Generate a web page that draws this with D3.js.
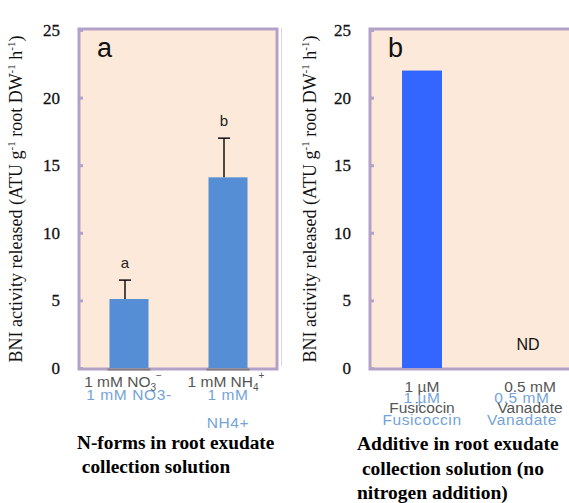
<!DOCTYPE html>
<html>
<head>
<meta charset="utf-8">
<script src="https://cdn.jsdelivr.net/npm/d3@7"></script>
<style>
  body { margin: 0; background: #fff; }
  svg { display: block; }
</style>
</head>
<body>
<svg id="chart" width="569" height="503"></svg>
<script>
// panel a data
const catsA = ["NO3", "NH4"];
const valuesA = [5.1, 14.1];
const errA = [1.4, 2.9];
const lettersA = ["a", "b"];

// panel b data (vanadate not detected)
const catsB = ["Fusicoccin", "Vanadate"];
const valuesB = [22, null];

const yTicks = [0, 5, 10, 15, 20, 25];

const svg = d3.select("#chart");
const frameFill = "#fde9d9", frameStroke = "#b3a2c7";
const serif = "'Liberation Serif', 'Times New Roman', serif";
const sans = "'Liberation Sans', Arial, sans-serif";
const blue = "#5b93d3";

function panel(opts) {
  const y = d3.scaleLinear().domain([0, 25]).range([368, 30]);
  const x = d3.scaleBand().domain(opts.cats).range(opts.xr)
    .paddingInner(opts.pi).paddingOuter(opts.po);

  const g = svg.append("g");
  g.append("rect")
    .attr("x", opts.fx).attr("y", 29)
    .attr("width", opts.fw).attr("height", 340)
    .attr("fill", frameFill).attr("stroke", frameStroke).attr("stroke-width", 3);

  const ax = g.append("g")
    .attr("transform", `translate(${opts.fx},0)`)
    .call(d3.axisLeft(y).tickValues(yTicks).tickSizeInner(-4).tickSizeOuter(0).tickPadding(19));
  ax.select(".domain").remove();
  ax.selectAll(".tick line").attr("stroke", frameStroke).attr("stroke-width", 3);
  ax.selectAll(".tick text")
    .attr("font-family", serif).attr("font-size", 17).attr("fill", "#111")
    .attr("stroke", "#111").attr("stroke-width", 0.3);

  // y axis title
  const t = g.append("text")
    .attr("transform", `translate(${opts.tx},199) rotate(-90)`)
    .attr("text-anchor", "middle")
    .attr("font-family", serif).attr("font-size", 18).attr("fill", "#111");
  t.append("tspan").text("BNI activity released (ATU g");
  t.append("tspan").attr("font-size", 11).attr("dy", -7).text("-1");
  t.append("tspan").attr("dy", 7).text(" root DW");
  t.append("tspan").attr("font-size", 11).attr("dy", -7).text("-1");
  t.append("tspan").attr("dy", 7).text(" h");
  t.append("tspan").attr("font-size", 11).attr("dy", -7).text("-1");
  t.append("tspan").attr("dy", 7).text(")");

  // panel letter
  g.append("text").attr("x", opts.fx + 18).attr("y", 57)
    .attr("font-family", sans).attr("font-size", 27).attr("fill", "#111")
    .text(opts.letter);

  return { g, x, y };
}

// ---------- panel a ----------
const pa = panel({ cats: catsA, xr: [79, 278], pi: 0.606, po: 0.308,
  fx: 79, fw: 198, tx: 22, letter: "a" });

pa.g.selectAll(".bar").data(valuesA).join("rect")
  .attr("x", (d, i) => pa.x(catsA[i]))
  .attr("width", pa.x.bandwidth())
  .attr("y", d => pa.y(d))
  .attr("height", d => pa.y(0) - pa.y(d))
  .attr("fill", "#558ed5");

pa.g.selectAll(".base").data(valuesA).join("line")
  .attr("x1", (d, i) => pa.x(catsA[i]) - 2)
  .attr("x2", (d, i) => pa.x(catsA[i]) + pa.x.bandwidth() + 2)
  .attr("y1", 369.5).attr("y2", 369.5)
  .attr("stroke", "#7f7f7f").attr("stroke-width", 2);

valuesA.forEach((v, i) => {
  const cx = pa.x(catsA[i]) + pa.x.bandwidth() / 2 - 4;
  const top = pa.y(v + errA[i]);
  pa.g.append("line").attr("x1", cx).attr("x2", cx)
    .attr("y1", pa.y(v)).attr("y2", top)
    .attr("stroke", "#111").attr("stroke-width", 1.5);
  pa.g.append("line").attr("x1", cx - 6).attr("x2", cx + 6)
    .attr("y1", top).attr("y2", top)
    .attr("stroke", "#111").attr("stroke-width", 1.5);
  pa.g.append("text").attr("x", cx).attr("y", top - 12)
    .attr("text-anchor", "middle")
    .attr("font-family", sans).attr("font-size", 15).attr("fill", "#222")
    .text(lettersA[i]);
});

// category labels (grey) with offset blue duplicates
function subLabel(g, x, y, parts, fill) {
  const t = g.append("text").attr("x", x).attr("y", y)
    .attr("text-anchor", "middle")
    .attr("font-family", sans).attr("font-size", 15.5).attr("fill", fill);
  parts.forEach(p => {
    const s = t.append("tspan").text(p[0]);
    if (p[1]) s.attr("font-size", 10).attr("dy", p[1]);
  });
  return t;
}
function blueLabel(g, x, y, txt) {
  g.append("text").attr("x", x).attr("y", y).attr("text-anchor", "middle")
    .attr("font-family", sans).attr("font-size", 15.5).attr("letter-spacing", 0.6)
    .attr("fill", blue).attr("opacity", 0.85).text(txt);
}
const cxA = catsA.map(c => pa.x(c) + pa.x.bandwidth() / 2);
subLabel(pa.g, cxA[0] - 6, 387, [["1 mM NO"], ["3", 4], ["−", -12], [" ", 8]], "#555");
subLabel(pa.g, cxA[1] - 2, 387, [["1 mM NH"], ["4", 4], ["+", -12], [" ", 8]], "#555");
blueLabel(pa.g, cxA[0], 400, "1 mM NO3-");
blueLabel(pa.g, cxA[1], 400, "1 mM");
blueLabel(pa.g, cxA[1], 428, "NH4+");

const titleA = ["N-forms in root exudate", " collection solution"];
pa.g.selectAll(".ttl").data(titleA).join("text")
  .attr("x", 77).attr("y", (d, i) => 449 + i * 24)
  .style("white-space", "pre")
  .attr("font-family", serif).attr("font-size", 19.3).attr("font-weight", "bold").attr("fill", "#000")
  .text(d => d);

// faint separator line
svg.append("line").attr("x1", 281.5).attr("x2", 281.5).attr("y1", 28).attr("y2", 366)
  .attr("stroke", "#dcd5e8").attr("stroke-width", 1);

// ---------- panel b ----------
const pb = panel({ cats: catsB, xr: [370, 574], pi: 0.6, po: 0.32,
  fx: 370, fw: 240, tx: 316, letter: "b" });

pb.g.selectAll(".bar").data(valuesB.filter(v => v != null)).join("rect")
  .attr("x", (d, i) => pb.x(catsB[i]))
  .attr("width", pb.x.bandwidth())
  .attr("y", d => pb.y(d))
  .attr("height", d => pb.y(0) - pb.y(d))
  .attr("fill", "#3366ff");

const cxB = catsB.map(c => pb.x(c) + pb.x.bandwidth() / 2);
valuesB.forEach((v, i) => {
  if (v == null) {
    pb.g.append("text").attr("x", cxB[i] + 6).attr("y", 350).attr("text-anchor", "middle")
      .attr("font-family", sans).attr("font-size", 16).attr("fill", "#111").text("ND");
  }
});

const greyB = [["1 µM", "Fusicocin"], ["0.5 mM", "Vanadate"]];
const blueB = [["1 µM", "Fusicoccin"], ["0.5 mM", "Vanadate"]];
greyB.forEach((lines, i) => {
  lines.forEach((l, j) => {
    pb.g.append("text").attr("x", cxB[i] + (i ? 8 : 0)).attr("y", 392 + j * 21)
      .attr("text-anchor", "middle")
      .attr("font-family", sans).attr("font-size", 15.5).attr("fill", "#555").text(l);
  });
});
blueB.forEach((lines, i) => {
  lines.forEach((l, j) => blueLabel(pb.g, cxB[i], 403 + j * 22, l));
});

const titleB = ["Additive in root exudate", " collection solution (no", "nitrogen addition)"];
pb.g.selectAll(".ttl").data(titleB).join("text")
  .attr("x", 357).attr("y", (d, i) => 450 + i * 24.5)
  .style("white-space", "pre")
  .attr("font-family", serif).attr("font-size", 19.5).attr("font-weight", "bold").attr("fill", "#000")
  .text(d => d);
</script>
</body>
</html>
